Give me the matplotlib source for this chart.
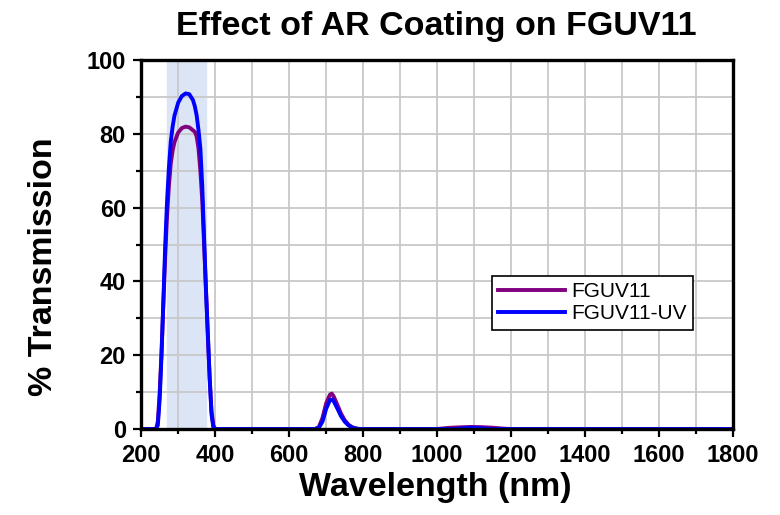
"""
Transmission of FGUV11 with and without the UV AR coating.
"""

import numpy as np
import matplotlib.pyplot as plt
from matplotlib.ticker import MultipleLocator

plt.rcParams['font.family'] = ['Liberation Sans', 'DejaVu Sans']

# wavelengths (nm) and transmission (%)
wl_uncoated = [200, 240, 245, 250, 255, 260, 265, 270, 275, 280, 285, 290, 300, 310, 320,
               330, 340, 345, 350, 355, 360, 365, 370, 375, 380, 385, 390, 395, 400,
               670, 680, 690, 700, 710, 715, 720, 730, 740, 750, 760, 770, 780, 790,
               1000, 1030, 1060, 1090, 1120, 1150, 1180, 1200, 1800]
t_uncoated = [0, 0, 2, 10, 21, 34, 47, 58, 66, 72, 75.5, 77.8, 80.4, 81.6, 82,
              81.8, 81, 80.6, 79.3, 76, 70, 62, 50, 38, 26, 14, 5, 1, 0,
              0, 0.5, 3, 7, 9.3, 9.6, 8.9, 6.6, 4.2, 2.4, 1.2, 0.5, 0.2, 0,
              0, 0.3, 0.45, 0.55, 0.5, 0.35, 0.1, 0, 0]

wl_coated = [200, 240, 245, 250, 255, 260, 265, 270, 275, 280, 285, 290, 300, 310, 320,
             330, 340, 345, 350, 355, 360, 365, 370, 375, 380, 385, 390, 395, 400,
             670, 680, 690, 700, 710, 717, 720, 730, 740, 750, 760, 770, 780, 790,
             1050, 1070, 1090, 1110, 1130, 1150, 1800]
t_coated = [0, 0, 1, 8, 20, 35, 50, 62, 71, 78, 82, 85, 88.5, 90.3, 91,
            90.8, 89.2, 87.5, 85, 81, 76, 66, 52, 38, 26, 14, 4, 0.5, 0,
            0, 0.3, 2, 5.5, 7.8, 8.0, 7.6, 5.6, 3.5, 2, 1, 0.4, 0.1, 0,
            0, 0.2, 0.35, 0.3, 0.1, 0, 0]

# highlighted UV band
band = (270, 375)

fig = plt.figure(figsize=(7.8, 5.15), dpi=100)
ax = fig.add_axes([0.181, 0.167, 0.759, 0.716])

ax.axvspan(band[0], band[1], color='#dbe5f6', zorder=0)

ax.plot(wl_uncoated, t_uncoated, color='#800080', lw=2.8, label='FGUV11', zorder=3)
ax.plot(wl_coated, t_coated, color='#0000ff', lw=2.8, label='FGUV11-UV', zorder=4)

ax.set_xlim(200, 1800)
ax.set_ylim(0, 100)
ax.xaxis.set_major_locator(MultipleLocator(200))
ax.xaxis.set_minor_locator(MultipleLocator(100))
ax.yaxis.set_major_locator(MultipleLocator(20))
ax.yaxis.set_minor_locator(MultipleLocator(10))

ax.grid(True, which='both', color='#c8c8c8', lw=1.3, zorder=1)
ax.set_axisbelow(True)

for side in ax.spines.values():
    side.set_linewidth(2.4)
    side.set_zorder(5)

ax.tick_params(which='major', direction='out', length=6, width=1.6, labelsize=17)
ax.tick_params(axis='x', which='major', pad=5)
ax.tick_params(axis='y', which='major', pad=5)
ax.tick_params(which='minor', direction='out', length=3.5, width=1.6)
for lbl in ax.get_xticklabels() + ax.get_yticklabels():
    lbl.set_fontweight('bold')

ax.set_xlabel('Wavelength (nm)', fontsize=24.5, fontweight='bold', va='center')
ax.xaxis.set_label_coords(0.497, -0.160)
ax.set_ylabel('% Transmission', fontsize=24.5, fontweight='bold', va='center')
ax.yaxis.set_label_coords(-0.165, 0.439)
fig.text(436 / 780, 1 - 27 / 515, 'Effect of AR Coating on FGUV11', fontsize=24.5,
         fontweight='bold', ha='center', va='center')

leg = ax.legend(loc='upper left', bbox_to_anchor=(0.592, 0.415), fontsize=15,
                frameon=True, fancybox=False, edgecolor='black', framealpha=1,
                borderaxespad=0, handlelength=3.2, borderpad=0.3, labelspacing=0.15,
                handletextpad=0.3)
leg.get_frame().set_linewidth(1.2)
leg.set_zorder(6)

plt.savefig('out.png', dpi=100)
